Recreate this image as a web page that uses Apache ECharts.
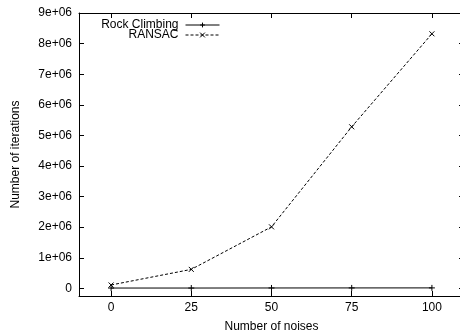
<!DOCTYPE html>
<html>
<head>
<meta charset="utf-8">
<script src="https://cdn.jsdelivr.net/npm/echarts@6/dist/echarts.min.js"></script>
<style>
  html, body { margin: 0; padding: 0; background: #fff; }
  #main { width: 460px; height: 334px; }
</style>
</head>
<body>
<div id="main"></div>
<script>
const chartDom = document.getElementById('main');
let myChart = echarts.init(chartDom);

// values
const noises = [0, 25, 50, 75, 100];
const rockClimbing = [10000, 10000, 12000, 14000, 15000];
const ransac = [110000, 620000, 2010000, 5280000, 8320000];
const xTicks = [0, 25, 50, 75, 100];
const yTicks = [0, 1e6, 2e6, 3e6, 4e6, 5e6, 6e6, 7e6, 8e6, 9e6];

const font = 'Liberation Sans';

yLabel = (v) => v === 0 ? '0' : `${Math.round(v / 1e6)}e+06`;

const plusSymbol = 'path://M0,5 L10,5 M5,0 L5,10';
const crossSymbol = 'path://M0,0 L10,10 M10,0 L0,10';

const markerStyle = {
    color: 'transparent',
    borderColor: '#000',
    borderWidth: 1
};

legendBox = (name, top) => {
    return {
        data: [name],
        orient: 'vertical',
        align: 'right',
        right: 240,
        top,
        itemWidth: 34,
        itemHeight: 6,
        itemGap: 0,
        padding: 0,
        selectedMode: false,
        lineStyle: { width: 1 },
        itemStyle: { borderWidth: 1 },
        textStyle: { fontFamily: font, fontSize: 12, color: '#000', padding: [0, 2, 0, 0] }
    };
}

makeXAxis = (position, showLabels) => {
    return {
        type: 'value',
        position,
        min: -10,
        max: 110,
        name: showLabels ? 'Number of noises' : '',
        nameLocation: 'middle',
        nameGap: 25,
        nameTextStyle: { fontFamily: font, fontSize: 12, color: '#000' },
        axisLine: { show: true, onZero: false, lineStyle: { color: '#000', width: 1 } },
        axisTick: { show: true, inside: true, length: 5, customValues: xTicks, lineStyle: { color: '#000' } },
        axisLabel: { show: showLabels, customValues: xTicks, margin: 6, fontFamily: font, fontSize: 12, color: '#000' },
        splitLine: { show: false }
    };
}

makeYAxis = (position, showLabels) => {
    return {
        type: 'value',
        position,
        min: -250000,
        max: 9000000,
        name: showLabels ? 'Number of iterations' : '',
        nameLocation: 'middle',
        nameGap: 57,
        nameRotate: 90,
        nameTextStyle: { fontFamily: font, fontSize: 12, color: '#000' },
        axisLine: { show: true, onZero: false, lineStyle: { color: '#000', width: 1 } },
        axisTick: { show: true, inside: true, length: 5, customValues: yTicks, lineStyle: { color: '#000' } },
        axisLabel: { show: showLabels, customValues: yTicks, margin: 7, formatter: yLabel, fontFamily: font, fontSize: 12, color: '#000' },
        splitLine: { show: false }
    };
}

myChart.setOption({
    animation: false,
    backgroundColor: '#fff',
    grid: { left: 79, right: -4, top: 13, bottom: 38, outerBoundsMode: 'none', containLabel: false },
    legend: [legendBox('Rock Climbing', 19), legendBox('RANSAC', 29)],
    xAxis: [makeXAxis('bottom', true), makeXAxis('top', false)],
    yAxis: [makeYAxis('left', true), makeYAxis('right', false)],
    series: [
        {
            name: 'Rock Climbing',
            type: 'line',
            data: noises.map((n, i) => [n, rockClimbing[i]]),
            symbol: plusSymbol,
            symbolSize: 6,
            itemStyle: markerStyle,
            lineStyle: { color: '#000', width: 1, type: 'solid' }
        },
        {
            name: 'RANSAC',
            type: 'line',
            data: noises.map((n, i) => [n, ransac[i]]),
            symbol: crossSymbol,
            symbolSize: 5,
            itemStyle: markerStyle,
            lineStyle: { color: '#000', width: 1, type: [3, 2] }
        }
    ]
});
</script>
</body>
</html>
